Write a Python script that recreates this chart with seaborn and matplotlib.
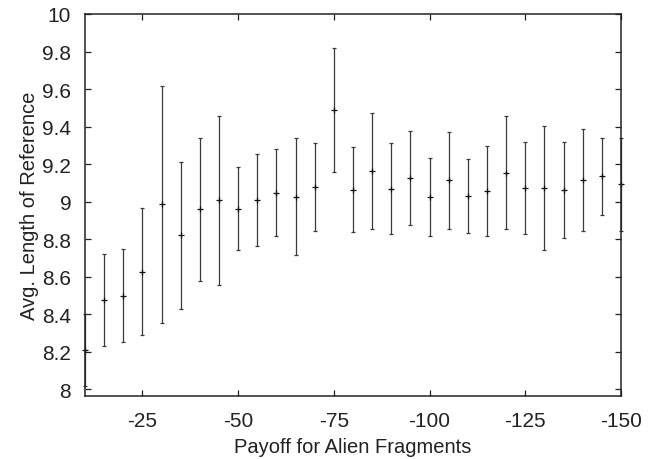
import numpy as np
import pandas as pd
import matplotlib
matplotlib.use('Agg')
import matplotlib.pyplot as plt
import seaborn as sns
from matplotlib.ticker import FormatStrFormatter

# Payoff values (x) and the mean / upper end of the error bars
payoff = [-10, -15, -20, -25, -30, -35, -40, -45, -50, -55, -60, -65, -70, -75,
          -80, -85, -90, -95, -100, -105, -110, -115, -120, -125, -130, -135,
          -140, -145, -150]
avg_length = [8.21, 8.476, 8.50, 8.628, 8.986, 8.821, 8.959, 9.007, 8.963, 9.009,
              9.049, 9.026, 9.080, 9.487, 9.063, 9.164, 9.070, 9.127, 9.026,
              9.114, 9.031, 9.058, 9.155, 9.072, 9.072, 9.063, 9.115, 9.135, 9.093]
upper = [8.40, 8.72, 8.746, 8.967, 9.619, 9.211, 9.342, 9.457, 9.183, 9.255,
         9.281, 9.337, 9.314, 9.818, 9.290, 9.475, 9.314, 9.379, 9.234,
         9.372, 9.227, 9.298, 9.457, 9.316, 9.403, 9.318, 9.386, 9.340, 9.340]

data = pd.DataFrame({'payoff': payoff, 'avg': avg_length, 'upper': upper})
data['err'] = data['upper'] - data['avg']

sns.set_style('ticks')
plt.rcParams['font.family'] = ['Liberation Sans', 'DejaVu Sans']
plt.rcParams['axes.unicode_minus'] = False

fig = plt.figure(figsize=(6.56, 4.6), dpi=100)
ax = fig.add_axes([0.1296, 0.137, 0.817, 0.8304])

bar_color = '#3a3a3a'
ax.errorbar(data['payoff'], data['avg'], yerr=data['err'], fmt='none',
            ecolor=bar_color, elinewidth=0.9, capsize=1.6, capthick=0.9,
            clip_on=False, zorder=2)
sns.scatterplot(data=data, x='payoff', y='avg', marker='+', s=22,
                color='#111111', linewidth=0.9, ax=ax, clip_on=False, zorder=3)

ax.set_xlim(-10, -150)
ax.set_ylim(7.965, 10)
ax.set_xticks([-25, -50, -75, -100, -125, -150])
ax.set_yticks(np.arange(8, 10.01, 0.2))
ax.yaxis.set_major_formatter(FormatStrFormatter('%g'))

ax.tick_params(direction='in', length=4, width=0.9, top=True, right=True,
               labelsize=15, colors='#222222')
ax.tick_params(axis='x', pad=11)
ax.tick_params(axis='y', pad=10)
for s in ax.spines.values():
    s.set_linewidth(1.1)
    s.set_color('#222222')
    s.set_zorder(4)

ax.set_xlabel('Payoff for Alien Fragments', fontsize=14.5, color='#222222', labelpad=5)
ax.set_ylabel('Avg. Length of Reference', fontsize=14.5, color='#222222', labelpad=2)

plt.savefig('out.png', dpi=100)
plt.close()
